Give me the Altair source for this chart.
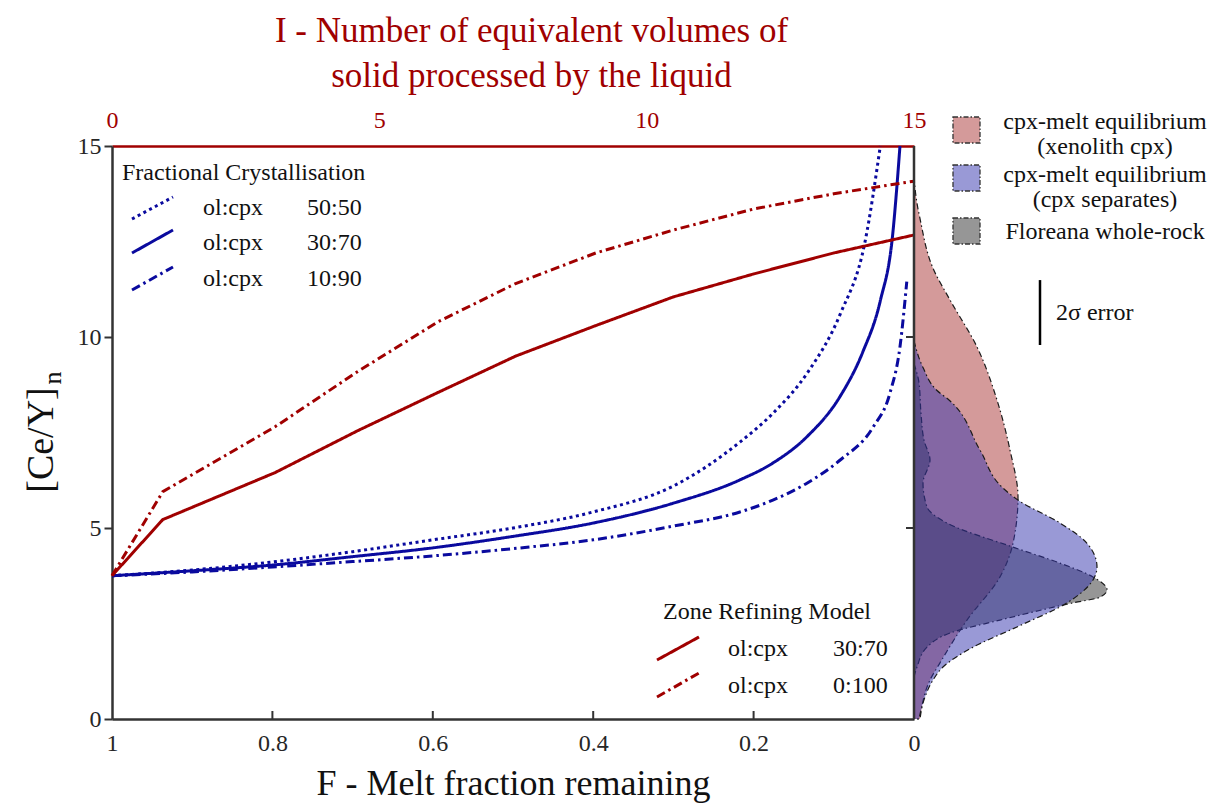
import altair as alt
import pandas as pd

# ---------------- data ----------------
# Fractional crystallisation curves: F (melt fraction remaining) vs [Ce/Y]n
fc5050_F = [1.0, 0.9, 0.8, 0.7, 0.6, 0.5, 0.4, 0.3, 0.217, 0.176, 0.133, 0.092, 0.061, 0.042]
fc5050_v = [3.75, 3.9, 4.11, 4.38, 4.69, 5.0, 5.42, 6.1, 7.25, 8.0, 9.06, 10.6, 12.5, 15.0]
fc3070_F = [1.0, 0.9, 0.8, 0.7, 0.6, 0.5, 0.4, 0.3, 0.217, 0.176, 0.133, 0.092, 0.064, 0.042, 0.027, 0.0175]
fc3070_v = [3.75, 3.88, 4.03, 4.25, 4.48, 4.78, 5.13, 5.65, 6.26, 6.7, 7.4, 8.45, 9.6, 10.95, 12.6, 15.0]
fc1090_F = [1.0, 0.9, 0.8, 0.7, 0.6, 0.5, 0.4, 0.3, 0.217, 0.176, 0.133, 0.092, 0.051, 0.03, 0.0175, 0.009]
fc1090_v = [3.75, 3.85, 3.98, 4.12, 4.27, 4.46, 4.69, 5.05, 5.42, 5.73, 6.18, 6.78, 7.64, 8.53, 9.74, 11.45]

# Zone refining curves: I (equivalent volumes processed) vs [Ce/Y]n
zr_I = [0, 0.95, 3.05, 4.6, 6.1, 7.55, 9.05, 10.5, 12.0, 13.5, 15.0]
zr3070_v = [3.75, 5.22, 6.45, 7.55, 8.55, 9.5, 10.3, 11.05, 11.65, 12.2, 12.67]
zr0100_v = [3.75, 5.95, 7.65, 9.1, 10.4, 11.4, 12.2, 12.8, 13.35, 13.75, 14.08]

# Density distributions (relative density) along [Ce/Y]n
xen_v = [14.2, 13.5, 13.1, 11.8, 10.97, 9.74, 8.35, 7.04, 5.81, 4.6, 3.72, 2.59, 1.47, 1.02, 0.0]
xen_d = [0, 0.015, 0.03, 0.095, 0.18, 0.315, 0.415, 0.48, 0.52, 0.495, 0.43, 0.265, 0.13, 0.08, 0.03]
sep_v = [9.9, 9.2, 8.6, 8.35, 7.04, 6.07, 5.73, 5.13, 4.6, 3.98, 3.64, 3.04, 2.41, 1.88, 1.36, 1.02, 0.5, 0.0]
sep_d = [0, 0.045, 0.115, 0.175, 0.33, 0.44, 0.52, 0.73, 0.865, 0.915, 0.895, 0.765, 0.515, 0.295, 0.145, 0.095, 0.05, 0.025]
wr_v = [9.3, 8.8, 8.0, 7.3, 6.78, 6.18, 5.55, 5.13, 4.5, 4.08, 3.72, 3.38, 3.19, 3.04, 2.59, 2.25, 1.88, 1.36, 1.1]
wr_d = [0, 0.025, 0.035, 0.05, 0.08, 0.045, 0.065, 0.165, 0.495, 0.73, 0.895, 0.965, 0.93, 0.795, 0.43, 0.18, 0.065, 0.015, 0]

F_ticks = [1, 0.8, 0.6, 0.4, 0.2, 0]
F_inner_ticks = [0.8, 0.6, 0.4, 0.2]
I_ticks = [0, 5, 10, 15]
Y_ticks = [0, 5, 10, 15]
Y_inner_ticks = [5, 10]
sigma_lo, sigma_hi = 9.79, 11.49

fc_ratios = ["50:50", "30:70", "10:90"]
zr_ratios = ["30:70", "0:100"]

# ---------------- styling ----------------
W, H = 802, 573
SERIF = "Liberation Serif"
RED = "#a00000"
BLUE = "#0a0a9e"
AX = "#333333"
DASHDOT = [9, 4, 2.5, 4]
DOTTED = [3, 3.5]
SOLID = [1, 0]
PINK, LAV, GREY = "#a93535", "#3333ad", "#2d2d2d"

fx = alt.Scale(domain=[0, 1], reverse=True, nice=False, zero=False)
ix = alt.Scale(domain=[0, 15], nice=False)
ys = alt.Scale(domain=[0, 15], nice=False)
dx = alt.Scale(domain=[0, 1], range=[W, W + 200], nice=False)

yaxis = alt.Axis(
    orient="left", values=Y_ticks, title=None, grid=False,
    domainColor=AX, domainWidth=2.5, tickColor=AX, tickWidth=2, tickSize=8,
    labelFont=SERIF, labelFontSize=24, labelColor="#262626", labelPadding=3)


def Y(field):
    return alt.Y(field, scale=ys, axis=yaxis)


fc_df = pd.concat([
    pd.DataFrame({"F": fc5050_F, "v": fc5050_v, "ratio": "50:50"}),
    pd.DataFrame({"F": fc3070_F, "v": fc3070_v, "ratio": "30:70"}),
    pd.DataFrame({"F": fc1090_F, "v": fc1090_v, "ratio": "10:90"}),
])
zr_df = pd.concat([
    pd.DataFrame({"I": zr_I, "v": zr3070_v, "ratio": "30:70"}),
    pd.DataFrame({"I": zr_I, "v": zr0100_v, "ratio": "0:100"}),
])

fc = alt.Chart(fc_df).mark_line(color=BLUE, strokeWidth=3, interpolate="monotone").encode(
    x=alt.X("F:Q", scale=fx, axis=alt.Axis(
        orient="bottom", values=F_ticks, format="~g", ticks=False, grid=False,
        domainColor=AX, domainWidth=2.5, labelFont=SERIF, labelFontSize=24,
        labelColor="#262626", labelPadding=12, labelFlush=False,
        title="F - Melt fraction remaining", titleFont=SERIF, titleFontSize=36,
        titleFontWeight="normal", titleColor="#111111", titlePadding=11)),
    y=Y("v:Q"),
    strokeDash=alt.StrokeDash("ratio:N", scale=alt.Scale(domain=fc_ratios, range=[DOTTED, SOLID, DASHDOT]), legend=None),
    detail="ratio:N",
)

zr = alt.Chart(zr_df).mark_line(color=RED, strokeWidth=3).encode(
    x=alt.X("I:Q", scale=ix, axis=alt.Axis(
        orient="top", values=I_ticks, ticks=False, grid=False,
        domainColor=RED, domainWidth=2.5, labelFont=SERIF, labelFontSize=24,
        labelColor=RED, labelPadding=14, labelFlush=False,
        title=["I - Number of equivalent volumes of", "solid processed by the liquid"],
        titleFont=SERIF, titleFontSize=35, titleFontWeight="normal", titleColor=RED,
        titleLineHeight=45, titlePadding=15, titleX=419)),
    y=Y("v:Q"),
    strokeDash=alt.StrokeDash("ratio:N", scale=alt.Scale(domain=zr_ratios, range=[SOLID, DASHDOT]), legend=None),
    detail="ratio:N",
)


def density(v, d, fill):
    return alt.Chart(pd.DataFrame({"v": v, "d": d})).mark_area(
        orient="horizontal", fill=fill, fillOpacity=0.5, stroke="#1a1a1a",
        strokeWidth=1.2, strokeDash=[6, 3, 1.5, 3], interpolate="monotone"
    ).encode(
        x=alt.X("d:Q", scale=dx, axis=None, stack=None),
        y=Y("v:Q"),
    )


kde_xen = density(xen_v, xen_d, PINK)
kde_wr = density(wr_v, wr_d, GREY)
kde_sep = density(sep_v, sep_d, LAV)

# inward ticks on bottom axis and on right axis, right frame line
bt = alt.Chart(pd.DataFrame({"t": F_inner_ticks})).mark_rule(color=AX, strokeWidth=2).encode(
    x=alt.X("t:Q", scale=fx, axis=None), y=alt.value(H), y2=alt.value(H - 8))
rt = alt.Chart(pd.DataFrame({"v": Y_inner_ticks})).mark_rule(color=AX, strokeWidth=2).encode(
    y=Y("v:Q"), x=alt.value(W - 8), x2=alt.value(W))
one = pd.DataFrame({"a": [0]})
rframe = alt.Chart(one).mark_rule(color=AX, strokeWidth=2.5).encode(
    x=alt.value(W), y=alt.value(0), y2=alt.value(H))

# 2 sigma error bar
sig = alt.Chart(pd.DataFrame({"v": [sigma_lo], "hi": [sigma_hi]})).mark_rule(color="black", strokeWidth=2.5).encode(
    y=Y("v:Q"), y2="hi:Q", x=alt.value(928))


def txt(s, x, y, size=24, align="left", color="#111111", angle=0):
    kw = dict(text=s, font=SERIF, fontSize=size, align=align, baseline="middle", color=color)
    if angle:
        kw["angle"] = angle
    return alt.Chart(one).mark_text(**kw).encode(x=alt.value(x), y=alt.value(y))


def seg(x1, y1, x2, y2, color, dash):
    return alt.Chart(one).mark_rule(color=color, strokeWidth=3, strokeDash=dash).encode(
        x=alt.value(x1), y=alt.value(y1), x2=alt.value(x2), y2=alt.value(y2))


def swatch(y0, fill):
    return alt.Chart(one).mark_rect(fill=fill, fillOpacity=0.5, stroke="#333333", strokeWidth=1.3,
                                    strokeDash=[5, 2, 1.5, 2]).encode(
        x=alt.value(841), x2=alt.value(868), y=alt.value(y0), y2=alt.value(y0 + 26))


annot = [
    txt("Fractional Crystallisation", 10, 27),
    txt("ol:cpx", 91, 62), txt(fc_ratios[0], 195, 62),
    txt("ol:cpx", 91, 97), txt(fc_ratios[1], 195, 97),
    txt("ol:cpx", 91, 133), txt(fc_ratios[2], 195, 133),
    seg(20, 73, 61, 51, BLUE, DOTTED), seg(20, 107, 61, 84, BLUE, SOLID), seg(20, 144, 61, 121, BLUE, DASHDOT),
    txt("Zone Refining Model", 551, 466),
    txt("ol:cpx", 616, 503), txt(zr_ratios[0], 721, 503),
    txt("ol:cpx", 616, 540), txt(zr_ratios[1], 721, 540),
    seg(545, 514, 587, 491, RED, SOLID), seg(545, 551, 587, 527, RED, DASHDOT),
    swatch(-29, PINK), swatch(19, LAV), swatch(72, GREY),
    txt("cpx-melt equilibrium", 993, -24, align="center"),
    txt("(xenolith cpx)", 993, 1, align="center"),
    txt("cpx-melt equilibrium", 993, 29, align="center"),
    txt("(cpx separates)", 993, 54, align="center"),
    txt("Floreana whole-rock", 993, 86, align="center"),
    txt("2σ error", 944, 167),
    txt("[Ce/Y]", -70, 294, size=38, align="center", angle=270),
    txt("n", -59, 232, size=26, align="center", angle=270),
]

chart = alt.layer(
    kde_xen, kde_wr, kde_sep, fc, zr, bt, rt, rframe, sig, *annot
).resolve_scale(x="independent", strokeDash="independent").properties(
    width=W, height=H,
    padding={"left": 112, "top": 146, "right": 1217 - 112 - W, "bottom": 803 - 146 - H},
    autosize=alt.AutoSizeParams(type="none"),
).configure_view(stroke=None).configure(font=SERIF, background="white")

chart.save("out.html", embed_options={"renderer": "svg", "actions": False})
